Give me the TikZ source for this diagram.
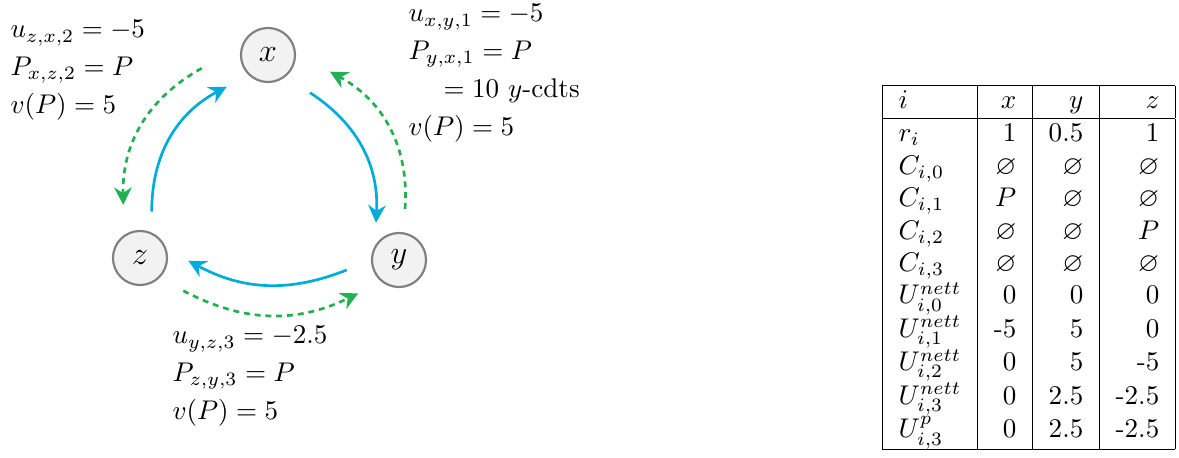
\documentclass[tikz,border=0pt]{standalone}
\usepackage{amssymb}
\usetikzlibrary{arrows.meta}
\definecolor{debtblue}{RGB}{0,172,220}
\definecolor{paygreen}{RGB}{34,176,80}
\tikzset{
  agent/.style={circle, draw=gray, fill=gray!10, line width=0.8pt, minimum size=20pt, inner sep=0pt, font=\large},
  debt/.style={debtblue, line width=1pt, -{Stealth[length=6.5pt,width=6.5pt]}},
  pay/.style={paygreen, line width=1pt, dash pattern=on 2.2pt off 1.8pt, -{Stealth[length=6.5pt,width=6.5pt]}},
  info/.style={align=left, anchor=north west, inner sep=0pt},
}
\begin{document}
\begin{tikzpicture}[x=0.37pt,y=0.37pt]
    \useasboundingbox (0,0) rectangle (1179,-458);
    \node[agent] (x) at (268,-55) {$x$};
    \node[agent] (y) at (399,-260) {$y$};
    \node[agent] (z) at (140,-258) {$z$};

    % Kreislauf der Schulden
    \draw[debt] ([shift={(75.8:47.8)}]z.center) to[bend left=31] ([shift={(217.5:52.1)}]x.center);
    \draw[debt] ([shift={(-41.9:56.4)}]x.center) to[bend left=30] ([shift={(121.7:43.8)}]y.center);
    \draw[debt] ([shift={(190.8:53.2)}]y.center) to[bend left=25] ([shift={(-3.2:48.4)}]z.center);

    % Zahlungen
    \draw[pay] ([shift={(191.3:67.6)}]x.center) to[bend right=31] ([shift={(107.5:55.6)}]z.center);
    \draw[pay] ([shift={(83.3:51.4)}]y.center) to[bend right=33] ([shift={(-15.1:64.2)}]x.center);
    \draw[pay] ([shift={(-37.1:54.3)}]z.center) to[bend right=27] ([shift={(219.3:52.6)}]y.center);

    \node[info] (lx) at (10,-20) {$u_{z,x,2} = -5$\\[2pt] $P_{x,z,2} = P$\\[2pt] $v(P) = 5$};
    \node[info] (ly) at (408,-4) {$u_{x,y,1} = -5$\\[2pt] $P_{y,x,1} = P$\\[2pt] \hspace*{13pt}$= 10\ y$-cdts\\[2pt] $v(P) = 5$};
    \node[info] (lz) at (172,-326) {$u_{y,z,3} = -2.5$\\[2pt] $P_{z,y,3} = P$\\[2pt] $v(P) = 5$};

    \node[anchor=north east, inner sep=0pt] (tab) at (1176,-84) {%
      \begin{tabular}{|l|r|r|r|}
        \hline
        $i$ & $x$ & $y$ & $z$\\ \hline
        $r_i$ & 1 & 0.5 & 1\\
        $C_{i,0}$ & $\varnothing$ & $\varnothing$ & $\varnothing$\\
        $C_{i,1}$ & $P$ & $\varnothing$ & $\varnothing$\\
        $C_{i,2}$ & $\varnothing$ & $\varnothing$ & $P$\\
        $C_{i,3}$ & $\varnothing$ & $\varnothing$ & $\varnothing$\\
        $U^{nett}_{i,0}$ & 0 & 0 & 0\\
        $U^{nett}_{i,1}$ & -5 & 5 & 0\\
        $U^{nett}_{i,2}$ & 0 & 5 & -5\\
        $U^{nett}_{i,3}$ & 0 & 2.5 & -2.5\\
        $U^{p}_{i,3}$ & 0 & 2.5 & -2.5\\ \hline
      \end{tabular}};
\end{tikzpicture}
\end{document}
